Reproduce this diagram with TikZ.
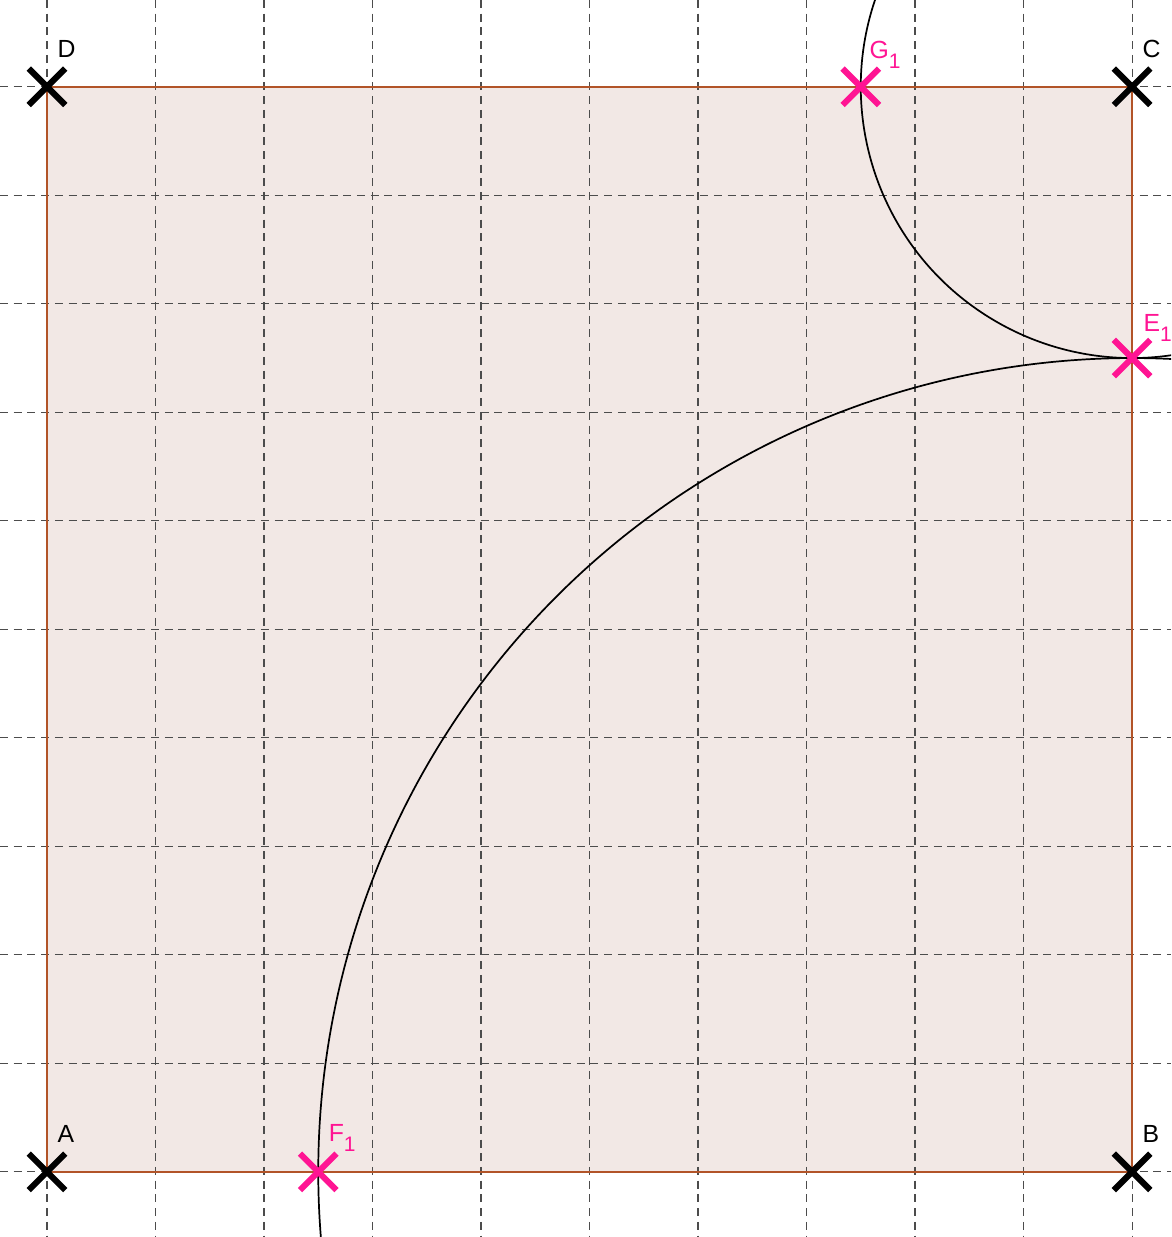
\documentclass[tikz,border=0pt]{standalone}
\usepackage{fontspec}
\newfontfamily\lblfont{Liberation Sans}
\usetikzlibrary{positioning,shapes.misc}
\definecolor{sqfill}{RGB}{242,232,229}
\definecolor{sqedge}{RGB}{178,84,40}
\definecolor{mag}{RGB}{255,20,147}
\newcommand{\sub}[1]{\raisebox{-2.6pt}{\fontsize{5.5}{6}\selectfont #1}}

\begin{document}
\begin{tikzpicture}[
      x=1cm, y=1cm,
      grd/.style  = {draw=black!70, line width=0.3pt, dash pattern=on 2.1pt off 1.5pt},
      sq/.style   = {draw=sqedge, line width=0.45pt},
      pt/.style   = {cross out, draw=black, line width=1.6pt, minimum size=2.8mm, inner sep=0pt},
      ptm/.style  = {pt, draw=mag},
      crc/.style  = {draw=black, line width=0.45pt},
      lb/.style   = {font=\lblfont\fontsize{6.5}{7}\selectfont, inner sep=0pt, text depth=0pt},
      lbm/.style  = {lb, text=mag},
    ]
    \useasboundingbox (-0.433,-0.6) rectangle (10.36,10.8);
    \clip (-0.433,-0.6) rectangle (10.36,10.8);

    %% ------------------------------------------------ square and grid
    \coordinate (A) at (0,0);
    \coordinate (B) at (10,0);
    \coordinate (C) at (10,10);
    \coordinate (D) at (0,10);
    \fill[sqfill] (A) rectangle (C);
    \foreach \i in {0,...,10} {
      \draw[grd] (\i,10.8) -- (\i,-0.6);
      \draw[grd] (-0.433,\i) -- (10.36,\i);
    }
    \draw[sq] (A) -- (B) -- (C) -- (D) -- cycle;

    %% ------------------------------------------------ arcs
    \draw[crc] (B) ++(80:7.5) arc[start angle=80, end angle=190, radius=7.5];
    \draw[crc] (C) ++(150:2.5) arc[start angle=150, end angle=290, radius=2.5];

    %% ------------------------------------------------ points
    \node[pt] (pA) at (A) {};
    \node[pt] (pB) at (B) {};
    \node[pt] (pC) at (C) {};
    \node[pt] (pD) at (D) {};
    \node[ptm] (pE) at (10,7.5) {};
    \node[ptm] (pF) at (2.5,0) {};
    \node[ptm] (pG) at (7.5,10) {};

    \node[lb, above right=0.26cm and 0.09cm of pA.center] (lA) {A};
    \node[lb, above right=0.26cm and 0.09cm of pB.center] (lB) {B};
    \node[lb, above right=0.26cm and 0.09cm of pC.center] (lC) {C};
    \node[lb, above right=0.26cm and 0.09cm of pD.center] (lD) {D};
    \node[lbm, above right=0.24cm and 0.10cm of pE.center] (lE) {E\sub{1}};
    \node[lbm, above right=0.27cm and 0.09cm of pF.center] (lF) {F\sub{1}};
    \node[lbm, above right=0.25cm and 0.075cm of pG.center] (lG) {G\sub{1}};
  \end{tikzpicture}
\end{document}
